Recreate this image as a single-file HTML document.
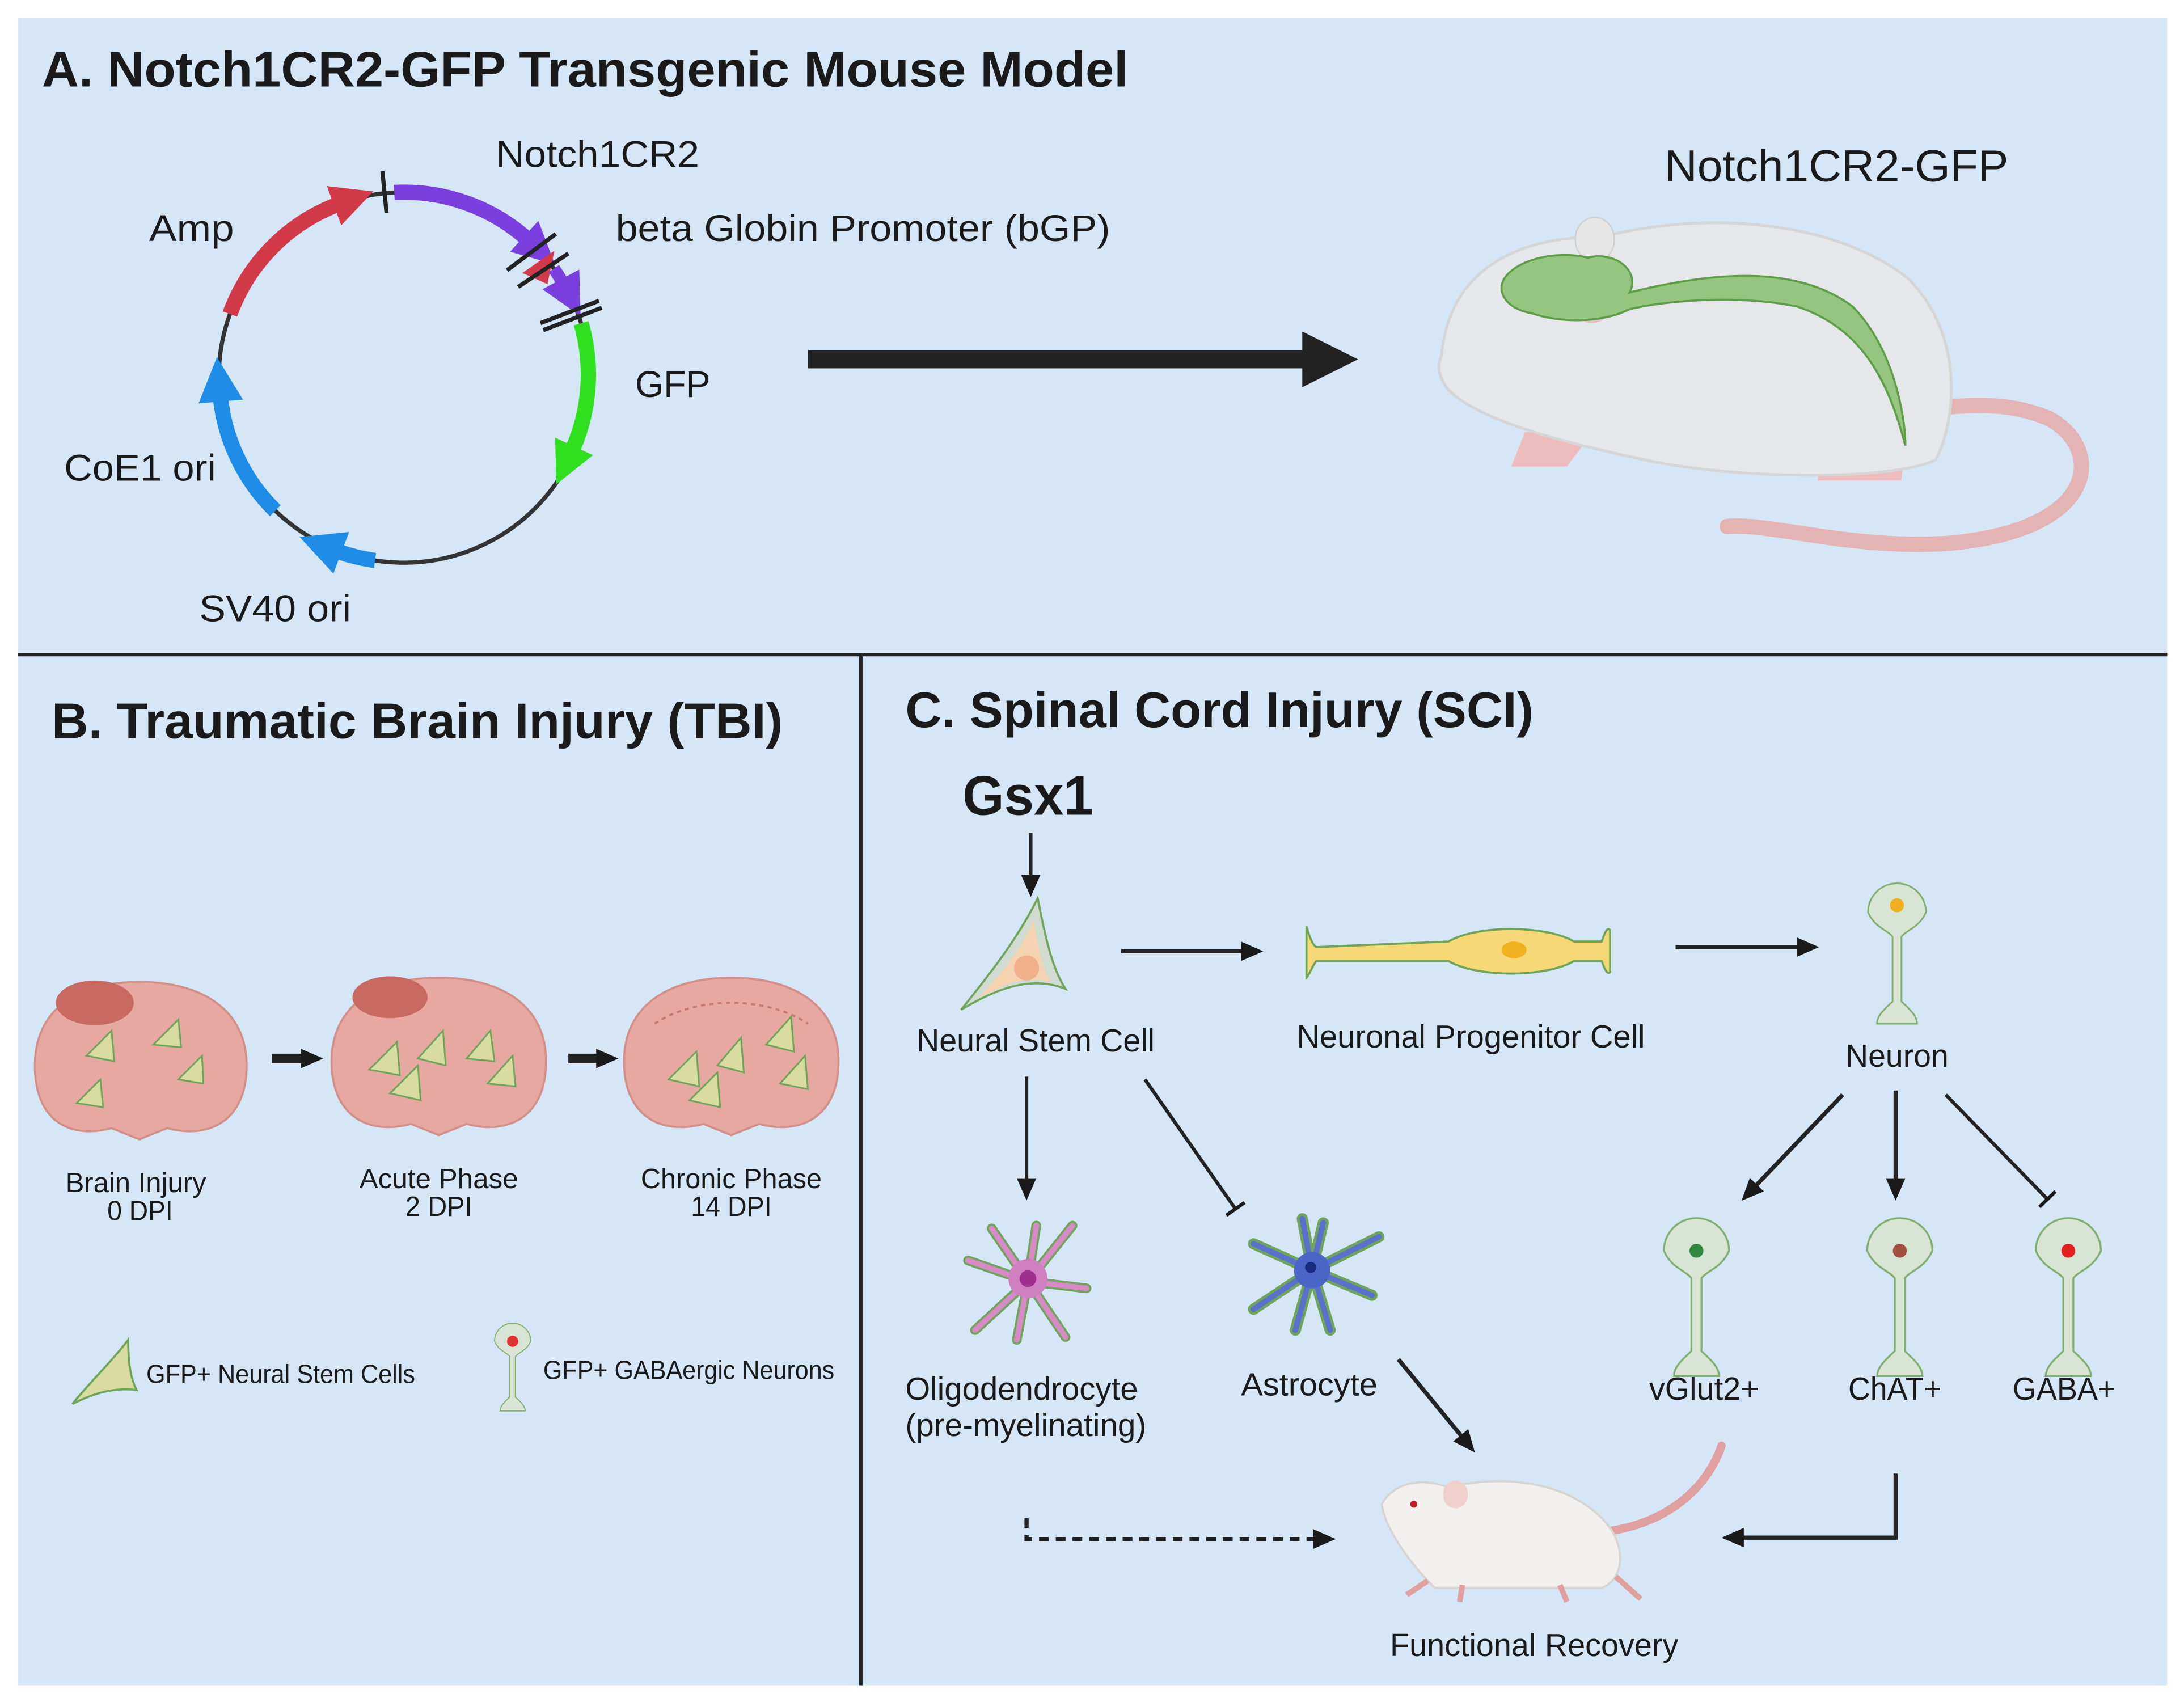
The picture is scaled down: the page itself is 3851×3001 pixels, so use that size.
<!DOCTYPE html>
<html><head><meta charset="utf-8"><style>html,body{margin:0;padding:0;background:#fff}svg{display:block}text{font-family:"Liberation Sans",sans-serif;fill:#1a1a1a}</style></head>
<body>
<svg width="3851" height="3001" viewBox="0 0 1568 1222" xmlns="http://www.w3.org/2000/svg">
<defs>
<marker id="mr" markerUnits="userSpaceOnUse" markerWidth="30" markerHeight="30" refX="4" refY="12" orient="auto" viewBox="0 0 24 24"><path d="M0,0 L24,12 L0,24 Z" fill="#d23a4a"/></marker>
<marker id="mp" markerUnits="userSpaceOnUse" markerWidth="30" markerHeight="30" refX="4" refY="12" orient="auto" viewBox="0 0 24 24"><path d="M0,0 L24,12 L0,24 Z" fill="#7b3fe0"/></marker>
<marker id="mg" markerUnits="userSpaceOnUse" markerWidth="30" markerHeight="30" refX="4" refY="12" orient="auto" viewBox="0 0 24 24"><path d="M0,0 L24,12 L0,24 Z" fill="#2fe01f"/></marker>
<marker id="mb" markerUnits="userSpaceOnUse" markerWidth="32" markerHeight="32" refX="4" refY="12" orient="auto" viewBox="0 0 24 24"><path d="M0,0 L24,12 L0,24 Z" fill="#1f8de8"/></marker>
<marker id="ak" markerUnits="userSpaceOnUse" markerWidth="16" markerHeight="16" refX="2" refY="8" orient="auto" viewBox="0 0 16 16"><path d="M0,1 L16,8 L0,15 Z" fill="#1a1a1a"/></marker>
<marker id="tb" markerUnits="userSpaceOnUse" markerWidth="16" markerHeight="16" refX="8" refY="8" orient="auto" viewBox="0 0 16 16"><path d="M8,0 L8,16" stroke="#1a1a1a" stroke-width="2.5"/></marker>
<g id="nsc">
<path d="M0,70 C20,45 40,20 55,-10 C60,15 65,40 75,55 C50,45 25,55 0,70 Z" fill="#cfdccf" stroke="#6fa55a" stroke-width="1.5"/>
<path d="M12,62 C28,45 45,25 52,5 C55,25 58,40 64,50 C45,45 30,52 12,62 Z" fill="#f5d3b0"/>
<circle cx="47" cy="40" r="9" fill="#f0b18a"/>
</g>
<g id="neu">
<path d="M-26,0 A26,26 0 1 1 26,0 C20,14 8,16 4,22 L4,80 C10,86 18,92 18,100 L-18,100 C-18,92 -10,86 -4,80 L-4,22 C-8,16 -20,14 -26,0 Z" fill="#d8e4d4" stroke="#7fb070" stroke-width="1.5"/>
</g>
</defs>
<rect x="0" y="0" width="1568" height="1222" fill="#fff"/>
<rect x="13" y="13" width="1543" height="1197" fill="#d5e6f6"/>
<line x1="13" y1="470" x2="1556" y2="470" stroke="#222" stroke-width="2.5"/>
<line x1="618" y1="470" x2="618" y2="1210" stroke="#222" stroke-width="2.5"/>

<g lengthAdjust="spacingAndGlyphs">
<!-- Panel A -->
<text x="30" y="62" font-size="36" font-weight="bold" textLength="780" lengthAdjust="spacingAndGlyphs">A. Notch1CR2-GFP Transgenic Mouse Model</text>
<circle cx="290" cy="271" r="133" fill="none" stroke="#333" stroke-width="3"/>
<path d="M165,225.5 A133,133 0 0 1 244.5,146" fill="none" stroke="#d23a4a" stroke-width="11" marker-end="url(#mr)"/>
<path d="M283,138.2 A133,133 0 0 1 380,173" fill="none" stroke="#7b3fe0" stroke-width="11" marker-end="url(#mp)"/>
<path d="M375,196 L398,180 L393,204 Z" fill="#d23a4a"/>
<path d="M397.6,192.8 A133,133 0 0 1 405,205" fill="none" stroke="#7b3fe0" stroke-width="9" marker-end="url(#mp)"/>
<path d="M417.2,232.1 A133,133 0 0 1 410,325" fill="none" stroke="#2fe01f" stroke-width="11" marker-end="url(#mg)"/>
<path d="M197.6,366.7 A133,133 0 0 1 158,283" fill="none" stroke="#1f8de8" stroke-width="11" marker-end="url(#mb)"/>
<path d="M269.2,402.4 A133,133 0 0 1 240,395" fill="none" stroke="#1f8de8" stroke-width="11" marker-end="url(#mb)"/>
<line x1="277.5" y1="153" x2="274.5" y2="123" stroke="#222" stroke-width="3"/>
<line x1="364" y1="194" x2="399" y2="168" stroke="#222" stroke-width="3"/>
<line x1="372" y1="206" x2="408" y2="182" stroke="#222" stroke-width="3"/>
<line x1="388" y1="232" x2="430" y2="216" stroke="#222" stroke-width="3"/>
<line x1="390" y1="237" x2="432" y2="221" stroke="#222" stroke-width="3"/>
<text x="356" y="120" font-size="27" textLength="146" lengthAdjust="spacingAndGlyphs">Notch1CR2</text>
<text x="107" y="173" font-size="27" textLength="61" lengthAdjust="spacingAndGlyphs">Amp</text>
<text x="442" y="173" font-size="27" textLength="355" lengthAdjust="spacingAndGlyphs">beta Globin Promoter (bGP)</text>
<text x="456" y="285" font-size="27" textLength="54" lengthAdjust="spacingAndGlyphs">GFP</text>
<text x="46" y="345" font-size="27" textLength="109" lengthAdjust="spacingAndGlyphs">CoE1 ori</text>
<text x="143" y="446" font-size="27" textLength="109" lengthAdjust="spacingAndGlyphs">SV40 ori</text>
<line x1="580" y1="258" x2="940" y2="258" stroke="#222" stroke-width="13"/>
<path d="M935,238 L975,258 L935,278 Z" fill="#222"/>
<text x="1195" y="130" font-size="32" textLength="247" lengthAdjust="spacingAndGlyphs">Notch1CR2-GFP</text>
<!-- mouse A -->
<path d="M1300,300 C1380,300 1420,280 1470,300 C1510,320 1510,380 1400,390 C1330,395 1270,375 1240,378" fill="none" stroke="#e4b4b4" stroke-width="11" stroke-linecap="round"/>
<path d="M1095,310 L1085,335 L1125,335 L1140,315 Z M1310,315 L1305,345 L1365,345 L1368,320 Z" fill="#eebcbc"/>
<path d="M1035,255 C1040,200 1080,170 1150,170 C1230,150 1320,160 1370,200 C1410,240 1405,300 1390,330 C1360,345 1250,345 1180,330 C1110,315 1060,300 1040,280 C1032,270 1032,262 1035,255 Z" fill="#e6e7ea" stroke="#d6d6d6" stroke-width="2"/>
<ellipse cx="1143" cy="222" rx="12" ry="10" fill="#e8c0c8"/>
<ellipse cx="1145" cy="172" rx="14" ry="16" fill="#e6e6e6" stroke="#d0d0d0"/>
<path d="M1080,200 C1090,185 1120,180 1140,185 C1160,180 1178,195 1170,210 C1230,195 1290,190 1330,220 C1360,250 1368,300 1368,320 C1355,270 1335,235 1290,220 C1250,212 1200,215 1170,222 C1150,232 1120,232 1100,225 C1082,222 1074,210 1080,200 Z" fill="#96c580" stroke="#5e9e48" stroke-width="1.5"/>

<!-- Panel B -->
<text x="37" y="530" font-size="36" font-weight="bold" textLength="525" lengthAdjust="spacingAndGlyphs">B. Traumatic Brain Injury (TBI)</text>
<g fill="#e6a8a0" stroke="#d39088" stroke-width="1.5">
<path d="M25,765 C25,725 55,705 100,705 C145,705 177,725 177,765 C177,805 150,818 120,810 L100,818 L80,810 C50,818 25,805 25,765 Z"/>
<path d="M238,762 C238,722 270,702 315,702 C360,702 392,722 392,762 C392,802 365,815 335,807 L315,815 L295,807 C265,815 238,802 238,762 Z"/>
<path d="M448,762 C448,722 480,702 525,702 C570,702 602,722 602,762 C602,802 575,815 545,807 L525,815 L505,807 C475,815 448,802 448,762 Z"/>
</g>
<ellipse cx="68" cy="720" rx="28" ry="16" fill="#c86a62"/>
<ellipse cx="280" cy="716" rx="27" ry="15" fill="#c86a62"/>
<path d="M470,735 C500,715 550,715 580,735" fill="none" stroke="#c87a72" stroke-width="1.5" stroke-dasharray="3,3"/>
<g fill="#d8dca0" stroke="#6fa55a" stroke-width="1.2">
<path d="M62,758 L80,740 L82,762 Z"/><path d="M110,750 L128,732 L130,752 Z"/><path d="M128,775 L145,758 L146,778 Z"/><path d="M55,792 L72,775 L74,795 Z"/>
<path d="M265,768 L285,748 L287,772 Z"/><path d="M280,785 L300,765 L302,790 Z"/><path d="M300,760 L318,740 L320,765 Z"/><path d="M335,760 L352,740 L355,762 Z"/><path d="M350,778 L368,758 L370,780 Z"/>
<path d="M480,775 L500,755 L502,780 Z"/><path d="M495,790 L515,770 L517,795 Z"/><path d="M515,765 L532,745 L534,770 Z"/><path d="M550,750 L568,730 L570,755 Z"/><path d="M560,778 L578,758 L580,782 Z"/>
</g>
<path d="M195,760 L218,760" stroke="#222" stroke-width="7" marker-end="url(#ak)"/>
<path d="M408,760 L430,760" stroke="#222" stroke-width="7" marker-end="url(#ak)"/>
<g font-size="20">
<text x="47" y="856" textLength="101" lengthAdjust="spacingAndGlyphs">Brain Injury</text><text x="77" y="876" textLength="47" lengthAdjust="spacingAndGlyphs">0 DPI</text>
<text x="258" y="853" textLength="114" lengthAdjust="spacingAndGlyphs">Acute Phase</text><text x="291" y="873" textLength="48" lengthAdjust="spacingAndGlyphs">2 DPI</text>
<text x="460" y="853" textLength="130" lengthAdjust="spacingAndGlyphs">Chronic Phase</text><text x="496" y="873" textLength="58" lengthAdjust="spacingAndGlyphs">14 DPI</text>
</g>
<path d="M52,1008 C62,995 78,980 92,962 C92,980 94,990 98,998 C82,996 68,1000 52,1008 Z" fill="#d8dca0" stroke="#6fa55a" stroke-width="1.5"/>
<text x="105" y="993" font-size="19" textLength="193" lengthAdjust="spacingAndGlyphs">GFP+ Neural Stem Cells</text>
<g transform="translate(368,963) scale(0.5)"><use href="#neu"/></g>
<circle cx="368" cy="963" r="4" fill="#e03030"/>
<text x="390" y="990" font-size="19" textLength="209" lengthAdjust="spacingAndGlyphs">GFP+ GABAergic Neurons</text>

<!-- Panel C -->
<text x="650" y="522" font-size="36" font-weight="bold" textLength="451" lengthAdjust="spacingAndGlyphs">C. Spinal Cord Injury (SCI)</text>
<text x="691" y="585" font-size="40" font-weight="bold" textLength="94" lengthAdjust="spacingAndGlyphs">Gsx1</text>
<line x1="740" y1="598" x2="740" y2="630" stroke="#222" stroke-width="2.5" marker-end="url(#ak)"/>
<g transform="translate(690,655)"><use href="#nsc"/></g>
<g font-size="23">
<text x="658" y="755" textLength="171" lengthAdjust="spacingAndGlyphs">Neural Stem Cell</text>
<text x="931" y="752" textLength="250" lengthAdjust="spacingAndGlyphs">Neuronal Progenitor Cell</text>
<text x="1325" y="766" textLength="74" lengthAdjust="spacingAndGlyphs">Neuron</text>
<text x="650" y="1005" textLength="167" lengthAdjust="spacingAndGlyphs">Oligodendrocyte</text>
<text x="650" y="1031" textLength="173" lengthAdjust="spacingAndGlyphs">(pre-myelinating)</text>
<text x="891" y="1002" textLength="98" lengthAdjust="spacingAndGlyphs">Astrocyte</text>
<text x="1184" y="1005" textLength="79" lengthAdjust="spacingAndGlyphs">vGlut2+</text>
<text x="1327" y="1005" textLength="67" lengthAdjust="spacingAndGlyphs">ChAT+</text>
<text x="1445" y="1005" textLength="74" lengthAdjust="spacingAndGlyphs">GABA+</text>
<text x="998" y="1189" textLength="207" lengthAdjust="spacingAndGlyphs">Functional Recovery</text>
</g>
<line x1="805" y1="683" x2="893" y2="683" stroke="#222" stroke-width="3" marker-end="url(#ak)"/>
<path d="M938,665 C940,672 942,678 945,680 L1040,676 C1060,664 1110,664 1130,676 L1150,676 C1152,670 1154,665 1156,668 L1156,698 C1154,700 1152,696 1150,690 L1130,690 C1110,702 1060,702 1040,690 L945,690 C942,694 940,700 938,702 Z" fill="#f6d976" stroke="#6fa55a" stroke-width="1.5"/>
<ellipse cx="1087" cy="682" rx="9" ry="6" fill="#f0b020"/>
<line x1="1203" y1="680" x2="1292" y2="680" stroke="#222" stroke-width="3" marker-end="url(#ak)"/>
<g transform="translate(1362,655) scale(0.8)"><use href="#neu"/></g>
<circle cx="1362" cy="650" r="5" fill="#f0b020"/>
<line x1="737" y1="773" x2="737" y2="848" stroke="#222" stroke-width="2.5" marker-end="url(#ak)"/>
<line x1="822" y1="775" x2="887" y2="868" stroke="#222" stroke-width="2.5" marker-end="url(#tb)"/>
<line x1="1323" y1="786" x2="1260" y2="852" stroke="#222" stroke-width="3" marker-end="url(#ak)"/>
<line x1="1361" y1="783" x2="1361" y2="848" stroke="#222" stroke-width="3" marker-end="url(#ak)"/>
<line x1="1397" y1="786" x2="1470" y2="861" stroke="#222" stroke-width="2.5" marker-end="url(#tb)"/>
<!-- oligo -->
<g stroke="#6fa55a" stroke-width="7" stroke-linecap="round" fill="none">
<path d="M738,920 L712,882 M738,920 L744,880 M738,920 L770,880 M738,920 L780,925 M738,920 L765,960 M738,920 L730,962 M738,920 L700,955 M738,920 L695,905"/></g>
<g stroke="#d78ac5" stroke-width="4" stroke-linecap="round" fill="none">
<path d="M738,920 L712,882 M738,920 L744,880 M738,920 L770,880 M738,920 L780,925 M738,920 L765,960 M738,920 L730,962 M738,920 L700,955 M738,920 L695,905"/></g>
<circle cx="738" cy="918" r="14" fill="#d080c0"/><circle cx="738" cy="918" r="6" fill="#a03090"/>
<!-- astro -->
<g stroke="#6fa55a" stroke-width="8" stroke-linecap="round" fill="none">
<path d="M942,912 L900,893 M942,912 L935,875 M942,912 L950,878 M942,912 L990,888 M942,912 L985,930 M942,912 L955,955 M942,912 L930,955 M942,912 L900,940"/></g>
<g stroke="#5a70cc" stroke-width="4" stroke-linecap="round" fill="none">
<path d="M942,912 L900,893 M942,912 L935,875 M942,912 L950,878 M942,912 L990,888 M942,912 L985,930 M942,912 L955,955 M942,912 L930,955 M942,912 L900,940"/></g>
<circle cx="942" cy="912" r="13" fill="#4a64c8"/><circle cx="941" cy="910" r="4" fill="#1a2a80"/>
<g transform="translate(1218,898) scale(0.9)"><use href="#neu"/></g><circle cx="1218" cy="898" r="5" fill="#2e8a40"/>
<g transform="translate(1364,898) scale(0.9)"><use href="#neu"/></g><circle cx="1364" cy="898" r="5" fill="#a05040"/>
<g transform="translate(1485,898) scale(0.9)"><use href="#neu"/></g><circle cx="1485" cy="898" r="5" fill="#e02020"/>
<line x1="1004" y1="976" x2="1050" y2="1032" stroke="#222" stroke-width="3" marker-end="url(#ak)"/>
<path d="M737,1090 L737,1105 L945,1105" fill="none" stroke="#222" stroke-width="3" stroke-dasharray="7,5" marker-end="url(#ak)"/>
<path d="M1361,1058 L1361,1104 L1250,1104" fill="none" stroke="#222" stroke-width="3" marker-end="url(#ak)"/>
<!-- mouse C -->
<path d="M1150,1100 C1195,1095 1225,1070 1236,1038" fill="none" stroke="#e0a0a0" stroke-width="6" stroke-linecap="round"/>
<path d="M992,1080 C1000,1065 1020,1060 1040,1068 C1070,1060 1120,1060 1150,1090 C1170,1110 1165,1135 1150,1140 L1030,1140 C1015,1125 995,1100 992,1080 Z" fill="#f2f0ee" stroke="#d8d4d0" stroke-width="1.5"/>
<ellipse cx="1045" cy="1073" rx="9" ry="10" fill="#f0d0cc"/>
<circle cx="1015" cy="1080" r="2.5" fill="#c02020"/>
<path d="M1025,1135 L1010,1145 M1050,1138 L1048,1150 M1120,1138 L1125,1150 M1160,1132 L1178,1148" stroke="#e0a0a0" stroke-width="4"/>
</g>
</svg>
</body></html>
